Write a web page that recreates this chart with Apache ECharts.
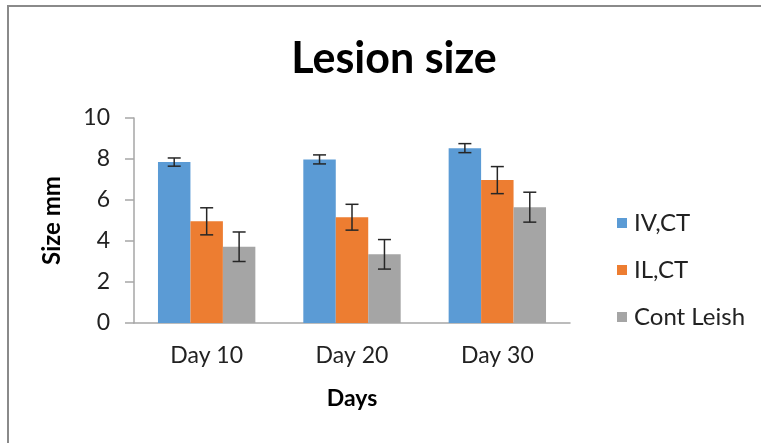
<!DOCTYPE html>
<html>
<head>
<meta charset="utf-8">
<script src="https://cdn.jsdelivr.net/npm/echarts@6/dist/echarts.min.js"></script>
<style>
html,body{margin:0;padding:0;background:#fff;}
#chart{width:761px;height:443px;}
</style>
</head>
<body>
<div id="chart"></div>
<script>
const categories = ['Day 10', 'Day 20', 'Day 30'];
const seriesNames = ['IV,CT', 'IL,CT', 'Cont Leish'];
const ivMeans = [7.85, 7.98, 8.53];
const ivErr = [0.2, 0.22, 0.22];
const ilMeans = [4.96, 5.16, 6.97];
const ilErr = [0.66, 0.63, 0.66];
const contMeans = [3.72, 3.35, 5.65];
const contErr = [0.72, 0.72, 0.73];
const yTicks = [0, 2, 4, 6, 8, 10];

const colors = ['#5b9bd5', '#ed7d31', '#a5a5a5'];
const FONT = 'Lato';
const CAT_GAP = 0.33;

const allMeans = [ivMeans, ilMeans, contMeans];
const allErr = [ivErr, ilErr, contErr];

const chart = echarts.init(document.getElementById('chart'), null, {renderer: 'canvas'});

function errorSeries(idx) {
  const data = categories.map((c, i) => [i, allMeans[idx][i] - allErr[idx][i], allMeans[idx][i] + allErr[idx][i]]);
  return {
    type: 'custom',
    name: seriesNames[idx] + ' err',
    z: 10,
    silent: true,
    data: data,
    renderItem: function (params, api) {
      const x = api.value(0);
      const lo = api.coord([x, api.value(1)]);
      const hi = api.coord([x, api.value(2)]);
      const band = api.size([1, 0])[0];
      const bw = band * (1 - CAT_GAP) / 3;
      const off = (idx - 1) * bw;
      const cx = lo[0] + off;
      const half = 6.5;
      const style = {stroke: '#262626', lineWidth: 1.5};
      return {
        type: 'group',
        children: [
          {type: 'line', shape: {x1: cx, y1: hi[1], x2: cx, y2: lo[1]}, style: style},
          {type: 'line', shape: {x1: cx - half, y1: hi[1], x2: cx + half, y2: hi[1]}, style: style},
          {type: 'line', shape: {x1: cx - half, y1: lo[1], x2: cx + half, y2: lo[1]}, style: style}
        ]
      };
    }
  };
}

const barSeries = allMeans.map((vals, i) => ({
  type: 'bar',
  name: seriesNames[i],
  data: vals,
  barGap: '0%',
  barCategoryGap: (CAT_GAP * 100) + '%',
  itemStyle: {color: colors[i]}
}));

const option = {
  animation: false,
  backgroundColor: '#fff',
  title: {
    text: 'Lesion size',
    left: 389,
    textAlign: 'center',
    top: 33,
    textStyle: {fontFamily: FONT, fontWeight: 'bold', fontSize: 43, color: '#000'}
  },
  legend: {
    orient: 'vertical',
    left: 612,
    top: 206,
    itemWidth: 10,
    itemHeight: 10,
    itemGap: 23,
    icon: 'rect',
    data: seriesNames,
    textStyle: {fontFamily: FONT, fontSize: 24, color: '#222', padding: [0, 0, 0, 2]}
  },
  graphic: [{
    type: 'rect',
    shape: {x: 8, y: 6, width: 800, height: 500},
    style: {fill: 'none', stroke: '#8a8a8a', lineWidth: 2},
    silent: true
  }],
  grid: {left: 134, right: 191, top: 118, bottom: 120},
  xAxis: {
    type: 'category',
    data: categories,
    name: 'Days',
    nameLocation: 'middle',
    nameGap: 64,
    nameTextStyle: {fontFamily: FONT, fontWeight: 'bold', fontSize: 23, color: '#000'},
    axisLine: {lineStyle: {color: '#a6a6a6', width: 1.5}},
    axisTick: {show: false},
    axisLabel: {fontFamily: FONT, fontSize: 23, color: '#222', margin: 21}
  },
  yAxis: {
    type: 'value',
    min: yTicks[0],
    max: yTicks[yTicks.length - 1],
    interval: yTicks[1] - yTicks[0],
    name: 'Size mm',
    nameLocation: 'middle',
    nameGap: 70,
    nameTextStyle: {fontFamily: FONT, fontWeight: 'bold', fontSize: 24, color: '#000'},
    axisLine: {show: true, lineStyle: {color: '#a6a6a6', width: 1.5}},
    axisTick: {show: true, length: 9, lineStyle: {color: '#a6a6a6', width: 1.5}},
    splitLine: {show: false},
    axisLabel: {fontFamily: FONT, fontSize: 23, color: '#222', margin: 24}
  },
  series: barSeries.concat([errorSeries(0), errorSeries(1), errorSeries(2)])
};

chart.setOption(option);
</script>
</body>
</html>
